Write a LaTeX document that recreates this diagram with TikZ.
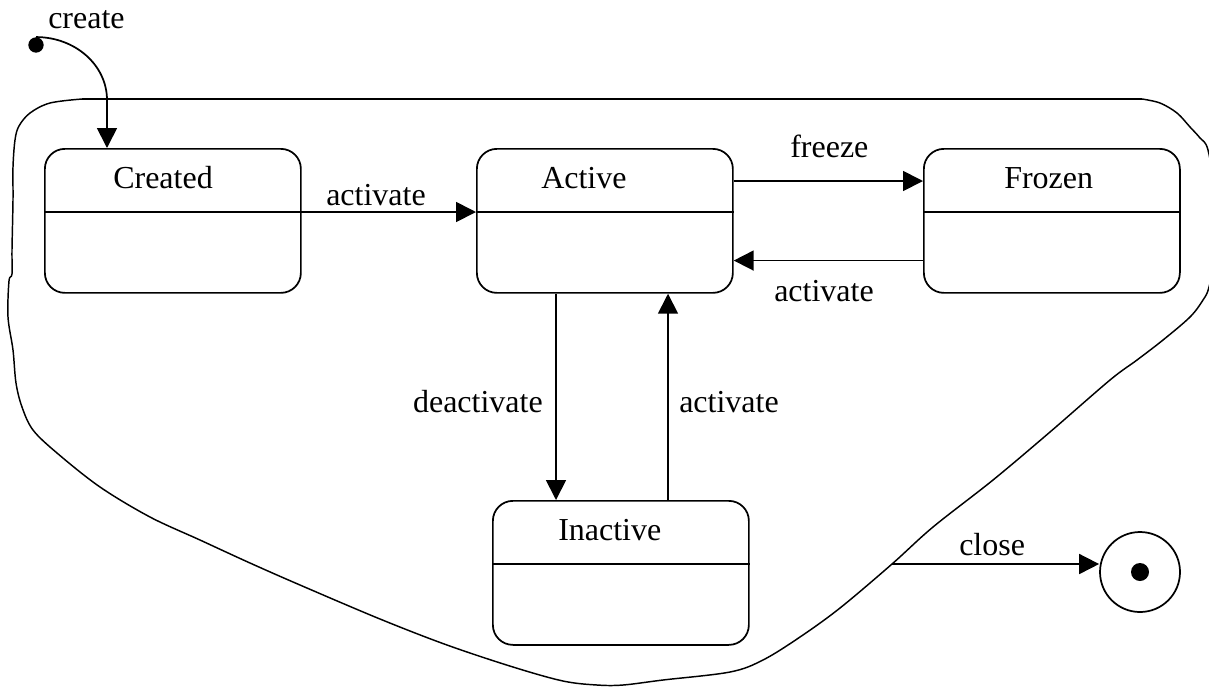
\documentclass[tikz,border=0pt]{standalone}
\usepackage{fontspec}
\setmainfont{Liberation Serif}
\usetikzlibrary{arrows.meta}
\begin{document}
\begin{tikzpicture}[x=0.75pt,y=-0.75pt,
  stbox/.style={draw, line width=1.3pt, rounded corners=15pt, minimum width=192pt, minimum height=108pt, inner sep=0pt, anchor=north west},
  lbl/.style={font=\fontsize{24}{28}\selectfont, inner sep=0pt},
  arr/.style={line width=1.3pt, -{Triangle[length=15pt,width=15pt]}},
  blob/.style={line width=1.1pt, line join=round}]
\useasboundingbox (0,0) rectangle (1209,687);
\clip (0,0) rectangle (1209,687);

% states
\node[stbox] (C) at (44,148) {};
\node[stbox] (A) at (476,148) {};
\node[stbox] (F) at (923,148) {};
\node[stbox] (I) at (492,500) {};
\foreach \n in {C,A,F,I}
  \draw[line width=1.3pt] ([yshift=-48pt]\n.north west) -- ([yshift=-48pt]\n.north east);

\node[lbl, anchor=base west] (tC) at (113,188) {Created};
\node[lbl, anchor=base west] (tA) at (541,188) {Active};
\node[lbl, anchor=base west] (tF) at (1004,188) {Frozen};
\node[lbl, anchor=base west] (tI) at (558,540) {Inactive};

% outer boundary
\draw[blob] (82,99) -- (1142,99);
\draw[blob] plot[smooth, tension=0.55] coordinates {(1142,99) (1160,103) (1177,113) (1190,127) (1200,138) (1208,150) (1216,200) (1216,250) (1209,287) (1203,300) (1190,317) (1163,340) (1137,360) (1110,380) (1050,432) (993,480) (933,527) (892,564) (840,608) (800,637) (763,660) (730,672) (663,680) (623,685) (597,685) (563,681) (513,667) (447,645) (380,619) (300,585) (250,563) (200,540) (150,517) (100,487) (57,453) (33,430) (22,407) (16,383) (13,350) (8,317) (9,281) (12,274) (12,250) (13,200) (13,167) (15,140) (19,126) (30,113) (50,103) (82,99)};

% initial state
\node[circle, fill, inner sep=0pt, minimum size=11.5pt] (init) at (36,45) {};
\node[lbl, anchor=base west] (tcreate) at (48,28) {create};
\coordinate (cx) at ([xshift=47.25pt]C.north west);
\coordinate (cbend) at (cx |- 0,100);
\draw[arr] (init.north) .. controls (75,37) and (107,65) .. (cbend) -- (cbend |- C.north);

% transitions
\draw[arr] ([yshift=-48pt]C.north east) -- ([yshift=-48pt]A.north west);
\node[lbl, anchor=base west] (l1) at (326,205) {activate};

\draw[arr] ([yshift=-24.75pt]A.north east) -- ([yshift=-24.75pt]F.north west);
\node[lbl, anchor=base west] (l2) at (790,157) {freeze};

\draw[arr] ([yshift=-84.4pt]F.north west) -- ([yshift=-84.4pt]A.north east);
\node[lbl, anchor=base west] (l3) at (774,301) {activate};

\coordinate (ai) at ([xshift=60pt]A.south west);
\draw[arr] (ai) -- (ai |- I.north);
\node[lbl, anchor=base east] (l4) at (543,412) {deactivate};

\coordinate (ia) at ([xshift=132pt]I.north west);
\draw[arr] (ia) -- (ia |- A.south);
\node[lbl, anchor=base west] (l5) at (679,412) {activate};

% final state
\node[circle, draw, line width=1.3pt, minimum size=60pt, inner sep=0pt] (fin) at (1140,572) {};
\node[circle, fill, minimum size=13.5pt, inner sep=0pt] (findot) at (fin.center) {};
\coordinate (closept) at (892,564);
\draw[arr] (closept) -- (closept -| fin.west);
\node[lbl, anchor=base west] (l6) at (959,555) {close};
\end{tikzpicture}
\end{document}
